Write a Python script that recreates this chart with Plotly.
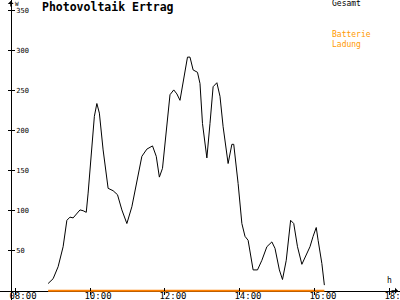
import plotly.graph_objects as go

title_text = "Photovoltaik Ertrag"
series_total = "Gesamt"
series_batt = "Batterie<br>Ladung"

times = ["08:53", "09:01", "09:09", "09:17", "09:23", "09:28", "09:33", "09:39", "09:44", "09:49",
         "09:54", "09:57", "10:03", "10:07", "10:11", "10:15", "10:21", "10:29", "10:37", "10:44",
         "10:51", "10:59", "11:07", "11:15", "11:23", "11:31", "11:40", "11:46", "11:51", "11:56",
         "12:02", "12:08", "12:14", "12:19", "12:24", "12:29", "12:36", "12:40", "12:45", "12:52",
         "12:56", "13:00", "13:07", "13:12", "13:17", "13:23", "13:28", "13:33", "13:41", "13:47",
         "13:50", "13:57", "14:03", "14:08", "14:13", "14:21", "14:28", "14:35", "14:43", "14:51",
         "14:56", "15:03", "15:08", "15:14", "15:21", "15:26", "15:32", "15:39", "15:46", "15:52",
         "15:57", "16:02", "16:05", "16:11", "16:15"]
gesamt = [9, 15, 30, 55, 88, 92, 91, 97, 101, 100,
          98, 122, 180, 218, 234, 222, 176, 128, 125, 120,
          101, 84, 105, 138, 168, 177, 181, 168, 142, 153,
          197, 245, 251, 246, 238, 259, 292, 292, 276, 273,
          259, 209, 166, 209, 255, 260, 243, 205, 159, 183,
          183, 134, 84, 68, 63, 26, 26, 38, 55, 61,
          53, 26, 14, 38, 88, 84, 55, 33, 45, 55,
          68, 79, 63, 34, 7]
ladung = [0] * len(times)

x_tickvals = [8, 10, 12, 14, 16, 18]
x_ticktext = ["08:00", "10:00", "12:00", "14:00", "16:00", "18:00"]
y_tickvals = [50, 100, 150, 200, 250, 300, 350]
y_ticktext = ["50", "100", "150", "200", "250", "300", "350"]

hours = [int(t[:2]) + int(t[3:]) / 60 for t in times]

XR = [7.6, 18.267]
YR = [-11.6, 363.4]
X_POS = 0.0309   # paper y of x-axis (value 0)
Y_POS = 0.0268   # paper x of y-axis

mono = "DejaVu Sans Mono"
orange_line = "#ff8000"
orange_text = "#ff9900"

fig = go.Figure()
fig.add_trace(go.Scatter(x=hours, y=ladung, mode="lines", name="Ladung",
                         line=dict(color=orange_line, width=2), showlegend=False))
fig.add_trace(go.Scatter(x=hours, y=gesamt, mode="lines", name=series_total,
                         line=dict(color="black", width=1), showlegend=False))
fig.add_trace(go.Scatter(x=[], y=[], xaxis="x2", yaxis="y2", showlegend=False))

fig.update_layout(
    width=400, height=300,
    margin=dict(l=0, r=0, t=0, b=0, autoexpand=False),
    paper_bgcolor="white", plot_bgcolor="white",
    xaxis=dict(range=XR, anchor="free", position=X_POS, showgrid=False, zeroline=False,
               automargin=False, ticklabeloverflow="allow",
               showline=True, linecolor="black", linewidth=1, layer="below traces",
               tickvals=x_tickvals, ticktext=x_ticktext, ticks="outside", ticklen=3,
               tickcolor="black", tickfont=dict(family=mono, size=9, color="black"),
               ticklabelshift=8, ticklabelstandoff=-7),
    yaxis=dict(range=YR, anchor="free", position=Y_POS, showgrid=False, zeroline=False,
               automargin=False, ticklabeloverflow="allow",
               showline=True, linecolor="black", linewidth=1,
               tickvals=y_tickvals, ticktext=y_ticktext, ticks="inside", ticklen=3,
               ticklabelposition="inside", tickcolor="black",
               tickfont=dict(family=mono, size=7, color="black")),
    xaxis2=dict(range=XR, overlaying="x", anchor="free", position=X_POS, showgrid=False,
                automargin=False,
                zeroline=False, showline=False, tickvals=x_tickvals, ticks="inside",
                ticklen=3, tickcolor="black", showticklabels=False),
    yaxis2=dict(range=YR, overlaying="y", anchor="free", position=Y_POS, showgrid=False,
                automargin=False,
                zeroline=False, showline=False, tickvals=y_tickvals, ticks="outside",
                ticklen=3, tickcolor="black", showticklabels=False),
)

anns = [
    dict(text="<b>" + title_text + "</b>", x=40 / 400, y=1 - 7 / 300, xref="paper", yref="paper",
         xanchor="left", yanchor="middle", showarrow=False,
         font=dict(family=mono, size=11.5, color="black")),
    dict(text=series_total, x=330 / 400, y=1 - 4 / 300, xref="paper", yref="paper",
         xanchor="left", yanchor="middle", showarrow=False,
         font=dict(family=mono, size=8, color="black")),
    dict(text=series_batt, x=330 / 400, y=1 - 40 / 300, xref="paper", yref="paper",
         xanchor="left", yanchor="middle", showarrow=False, align="left",
         font=dict(family=mono, size=8, color=orange_text)),
    dict(text="W", x=13 / 400, y=1 - 3.5 / 300, xref="paper", yref="paper",
         xanchor="left", yanchor="middle", showarrow=False,
         font=dict(family=mono, size=6, color="black")),
    dict(text="h", x=385 / 400, y=1 - 280.5 / 300, xref="paper", yref="paper",
         xanchor="left", yanchor="middle", showarrow=False,
         font=dict(family=mono, size=8, color="black")),
    dict(text="", x=Y_POS, y=1.0, xref="paper", yref="paper", showarrow=True,
         ax=0, ay=8, axref="pixel", ayref="pixel", arrowhead=1, arrowsize=1,
         arrowwidth=1, arrowcolor="black"),
    dict(text="", x=398 / 400, y=X_POS, xref="paper", yref="paper", showarrow=True,
         ax=-8, ay=0, axref="pixel", ayref="pixel", arrowhead=1, arrowsize=1,
         arrowwidth=1, arrowcolor="black"),
]
fig.update_layout(annotations=anns)

fig.write_html("out.html")
